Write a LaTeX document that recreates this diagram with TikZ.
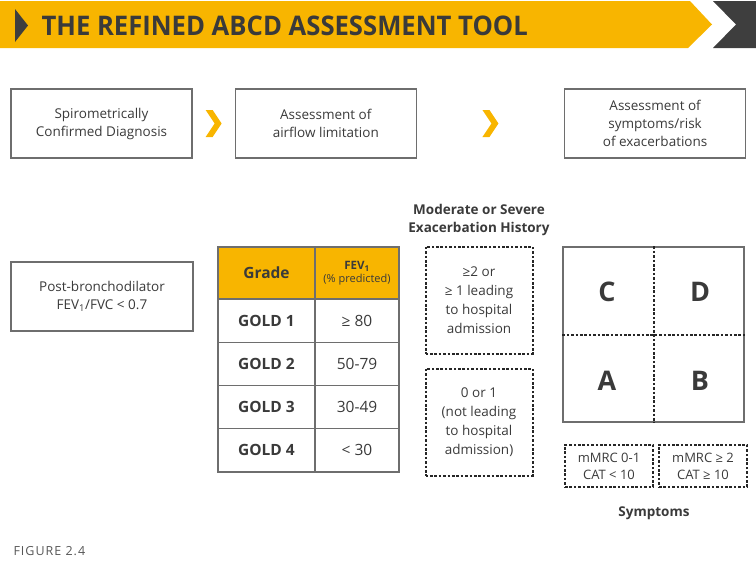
\documentclass[tikz,border=0pt]{standalone}
\usepackage{fontspec}
\setmainfont{Open Sans}
\newfontfamily\bannerfont[FakeStretch=0.95]{Open Sans}
\usepackage{xcolor}
\usepackage{tikz}
\usetikzlibrary{positioning,calc}
\definecolor{goldyellow}{HTML}{F8B500}
\definecolor{bannergrey}{HTML}{3E3E3E}
\definecolor{linegrey}{HTML}{6E6E6E}
\definecolor{textgrey}{HTML}{3A3A3A}
\definecolor{dashgrey}{HTML}{262626}

\begin{document}
\begin{tikzpicture}[x=1pt,y=-1pt,
  box/.style={draw=linegrey,line width=1.3pt,fill=white,minimum width=181pt,minimum height=69pt,align=center,text=textgrey,font=\fontsize{13.5}{18}\selectfont},
  cell/.style={draw=linegrey,line width=1.3pt,outer sep=0pt,inner sep=0pt,minimum height=43.25pt,align=center,text=textgrey},
  hdr/.style={cell,fill=goldyellow,minimum height=52pt},
  dbox/.style={draw=dashgrey,line width=2pt,dash pattern=on 2.6pt off 1.8pt,minimum width=107pt,minimum height=107pt,align=center,text=textgrey,font=\fontsize{13.5}{19}\selectfont},
  sbox/.style={dbox,minimum width=88pt,minimum height=42pt,font=\fontsize{13}{17}\selectfont},
  dline/.style={draw=dashgrey,line width=2pt,dash pattern=on 2.6pt off 1.8pt},
  quad/.style={font=\fontsize{27}{27}\selectfont\bfseries,text=textgrey},
  heading/.style={font=\fontsize{13.5}{18}\selectfont\bfseries,text=textgrey,align=center},
  node distance=0pt
]
\useasboundingbox (0,0) rectangle (756,568);

% title banner
\fill[goldyellow] (0,1) -- (690,1) -- (712,24.5) -- (688,48) -- (0,48) -- cycle;
\fill[bannergrey] (713,1) -- (756,1) -- (756,48) -- (713,48) -- (736,24.5) -- cycle;
\fill[bannergrey] (15,9) -- (28,25.5) -- (15,42) -- cycle;
\node[anchor=west,text=textgrey,font=\bannerfont\fontsize{27}{27}\selectfont\bfseries] (title) at (38,25.5) {THE REFINED ABCD ASSESSMENT TOOL};

% steps
\node[box] (diag) at (101.5,123.5) {Spirometrically\\Confirmed Diagnosis};
\node[box,right=42pt of diag] (airflow) {Assessment of\\airflow limitation};
\node[box,right=147pt of airflow] (risk) {Assessment of\\symptoms/risk\\of exacerbations};
\fill[goldyellow] ($(diag.east)!0.5!(airflow.west)$) ++(-8,-13.5) -- ++(7,0) -- ++(9,13.5) -- ++(-9,13.5) -- ++(-7,0) -- ++(9,-13.5) -- cycle;
\fill[goldyellow] ($(airflow.east)!0.5!(risk.west)$) ++(-8,-13.5) -- ++(7,0) -- ++(9,13.5) -- ++(-9,13.5) -- ++(-7,0) -- ++(9,-13.5) -- cycle;

% spirometry
\node[box,minimum width=182pt] (post) at (102,296.5) {Post-bronchodilator\\FEV\textsubscript{1}/FVC < 0.7};

% grade table
\node[hdr,minimum width=97pt,anchor=north west] (grade) at (218,247) {\fontsize{15.5}{18}\selectfont\bfseries Grade};
\node[hdr,minimum width=84pt,right=0pt of grade] (fev) {{\fontsize{11.5}{13}\selectfont\bfseries FEV\textsubscript{1}}\\[1pt]{\fontsize{11}{13}\selectfont(\% predicted)}};
\node[cell,minimum width=97pt,below=0pt of grade,font=\fontsize{15.5}{18}\selectfont\bfseries] (gold1) {GOLD 1};
\node[cell,minimum width=97pt,below=0pt of gold1,font=\fontsize{15.5}{18}\selectfont\bfseries] (gold2) {GOLD 2};
\node[cell,minimum width=97pt,below=0pt of gold2,font=\fontsize{15.5}{18}\selectfont\bfseries] (gold3) {GOLD 3};
\node[cell,minimum width=97pt,below=0pt of gold3,font=\fontsize{15.5}{18}\selectfont\bfseries] (gold4) {GOLD 4};
\node[cell,minimum width=84pt,right=0pt of gold1,font=\fontsize{15.5}{18}\selectfont] (fev1) {≥ 80};
\node[cell,minimum width=84pt,right=0pt of gold2,font=\fontsize{15.5}{18}\selectfont] (fev2) {50-79};
\node[cell,minimum width=84pt,right=0pt of gold3,font=\fontsize{15.5}{18}\selectfont] (fev3) {30-49};
\node[cell,minimum width=84pt,right=0pt of gold4,font=\fontsize{15.5}{18}\selectfont] (fev4) {< 30};

% exacerbation history
\node[heading] (hist) at (479,220) {Moderate or Severe\\Exacerbation History};
\node[dbox] (high) at (479,300) {≥2 or\\≥ 1 leading\\to hospital\\admission};
\node[dbox,below=13pt of high] (low) {0 or 1\\(not leading\\to hospital\\admission)};

% ABCD grid
\node[draw=linegrey,line width=1.3pt,minimum width=181pt,minimum height=175pt] (grid) at (653.5,334.5) {};
\draw[dline] (grid.north) -- (grid.south);
\draw[dline] (grid.west) -- (grid.east);
\node[quad] (qc) at (607,292) {C};
\node[quad] (qd) at (700,292) {D};
\node[quad] (qa) at (607,381) {A};
\node[quad] (qb) at (700,381) {B};

% symptoms
\node[sbox] (mild) at (609,466) {mMRC 0-1\\CAT < 10};
\node[sbox,right=4pt of mild] (severe) {mMRC ≥ 2\\CAT ≥ 10};
\node[heading] (sympt) at (654,513) {Symptoms};

\node[anchor=west,text=textgrey!85,font=\fontsize{12.5}{14}\selectfont\addfontfeatures{LetterSpace=8}] (fig) at (10,551) {FIGURE 2.4};
\end{tikzpicture}
\end{document}
